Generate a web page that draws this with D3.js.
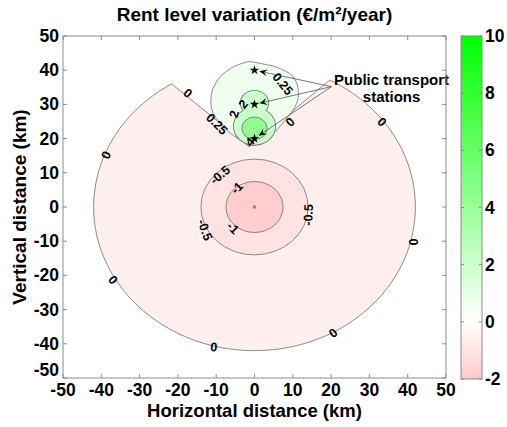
<!DOCTYPE html>
<html><head><meta charset="utf-8">
<script src="https://cdn.jsdelivr.net/npm/d3@7"></script>
<style>
body{margin:0;background:#fff;}
text{font-family:"Liberation Sans",Arial,sans-serif;font-weight:bold;fill:#000;}
</style></head>
<body><svg id="c" width="507" height="427"></svg>
<script>
// ---------- data (km / €/m²/year) ----------
const xTicks = [-50,-40,-30,-20,-10,0,10,20,30,40,50];
const yTicks = [-50,-40,-30,-20,-10,0,10,20,30,40,50];
const cbTicks = [-2,0,2,4,6,8,10];
const stations = [[0,40],[0,30],[0,20]];
const diskRadius = 42;                       // outer 0 contour (data domain)
const notch = [[19.5,36.8],[-1.4,17.6],[-22.1,36.8]];
const negLevels = [-0.5,-1];
const negRadii = [14,7.45];
const blob025 = [[-1.6,42.5],[1.4,42.0],[5.5,41.0],[9.5,38.8],[11.2,35.7],[11.4,31.8],[10.1,28.4],[5.8,22.5],[2.3,19.1],[-0.7,18.0],[-3.8,19.6],[-7.3,22.5],[-10.6,26.9],[-11.4,30.3],[-11.0,34.2],[-9.0,38.1],[-5.5,41.0]];
const level2Circles = [[0,30.4,3.6],[0,23.6,5.4]];
const level4Circle = [0,23.0,3.3];
const contourLabels = [
 ["0",-17.4,33.3,39],["0.25",-9.8,24.3,45],["0.25",7.4,36.0,50],["0",9.3,24.9,-45],
 ["2",-3.0,30.1,-50],["2",-5.4,27.2,-75],["4",-1.2,19.0,-45],
 ["0",-38.8,15.2,-65],["0",33.3,24.9,45],["0",41.6,-10.2,90],["0",-36.9,-21.3,50],
 ["0",20.5,-36.8,-40],["0",-10.6,-40.9,5],
 ["-0.5",-9.0,9.4,-40],["-1",-4.6,5.6,-45],["-0.5",14.0,-2.3,-88],["-0.5",-12.9,-6.7,70],["-1",-5.6,-6.1,45]
];
const annotText = ["Public transport","stations"];
const annotStart = [20.1,35.2];
const annotTextPos = [35.8,35.7];

// ---------- layout ----------
const svg = d3.select("#c");
const x = d3.scaleLinear([-50,50],[63,446]);
const y = d3.scaleLinear([-50,50],[378,36]);
const cy = d3.scaleLinear([-2,10],[379,36]);
const kx = x(1)-x(0), ky = y(0)-y(1);
function cmap(v){
  if(v<0) return d3.interpolateRgb("#ffffff","rgb(255,200,200)")(Math.min(1,-v/2));
  return d3.interpolateRgb("#ffffff","rgb(0,255,0)")(Math.min(1,v/10));
}
const lineCol = "#6e6e6e";

// outer disk with notch
const a1 = Math.atan2(notch[0][1],notch[0][0]);
const a2 = Math.atan2(notch[2][1],notch[2][0]) - 2*Math.PI;
const disk = [];
for(let a=a1;a>=a2;a-=Math.PI/90) disk.push([diskRadius*Math.cos(a),diskRadius*Math.sin(a)]);
disk.push([diskRadius*Math.cos(a2),diskRadius*Math.sin(a2)]);
disk.push(notch[1]);
const lineGen = d3.line().x(d=>x(d[0])).y(d=>y(d[1]));
svg.append("path").attr("d",lineGen(disk)+"Z").attr("fill","rgb(255,239,239)").attr("stroke",lineCol).attr("stroke-width",0.8);

// negative circles
const negFill = ["rgb(255,226,226)","rgb(255,205,205)"];
negLevels.forEach((lv,i)=>{
  svg.append("ellipse").attr("cx",x(0)).attr("cy",y(0)).attr("rx",negRadii[i]*kx).attr("ry",negRadii[i]*ky)
   .attr("fill",negFill[i]).attr("stroke",lineCol).attr("stroke-width",0.8);
});
svg.append("circle").attr("cx",x(0)).attr("cy",y(0)).attr("r",1.8).attr("fill","#888");

// 0.25 blob
svg.append("path").attr("d",d3.line().x(d=>x(d[0])).y(d=>y(d[1])).curve(d3.curveCardinalClosed.tension(0.3))(blob025))
  .attr("fill","rgb(240,255,240)").attr("stroke",lineCol).attr("stroke-width",0.8);
// level 2 union
level2Circles.forEach(c=>svg.append("ellipse").attr("cx",x(c[0])).attr("cy",y(c[1])).attr("rx",c[2]*kx).attr("ry",c[2]*ky)
  .attr("fill","none").attr("stroke",lineCol).attr("stroke-width",1.6));
level2Circles.forEach(c=>svg.append("ellipse").attr("cx",x(c[0])).attr("cy",y(c[1])).attr("rx",c[2]*kx).attr("ry",c[2]*ky)
  .attr("fill","rgb(204,255,204)"));
svg.append("ellipse").attr("cx",x(level4Circle[0])).attr("cy",y(level4Circle[1])).attr("rx",level4Circle[2]*kx).attr("ry",level4Circle[2]*ky)
  .attr("fill","rgb(145,250,145)").attr("stroke",lineCol).attr("stroke-width",0.8);

// contour labels
contourLabels.forEach(l=>{
  svg.append("text").attr("transform",`translate(${x(l[1])},${y(l[2])}) rotate(${l[3]})`)
   .attr("text-anchor","middle").attr("dy","0.35em").attr("font-size",12.5).text(l[0]);
});

// stations
svg.selectAll(".st").data(stations).join("path")
  .attr("transform",d=>`translate(${x(d[0])},${y(d[1])})`)
  .attr("d",d3.symbol(d3.symbolStar,28)).attr("fill","#000");

// annotation arrows
const sx = x(annotStart[0]), sy = y(annotStart[1]);
stations.forEach(s=>{
  const px=x(s[0]), py=y(s[1]);
  const dx=sx-px, dy=sy-py, L=Math.hypot(dx,dy), ux=dx/L, uy=dy/L;
  const tx=px+ux*5, ty=py+uy*5;
  svg.append("line").attr("x1",sx).attr("y1",sy).attr("x2",tx+ux*5).attr("y2",ty+uy*5).attr("stroke","#555").attr("stroke-width",0.8);
  const hl=8, hw=3.5, nx=-uy, ny=ux;
  const p=[[tx,ty],[tx+ux*hl+nx*hw,ty+uy*hl+ny*hw],[tx+ux*hl*0.6,ty+uy*hl*0.6],[tx+ux*hl-nx*hw,ty+uy*hl-ny*hw]];
  svg.append("path").attr("d","M"+p.map(q=>q.join(",")).join("L")+"Z").attr("fill","#000");
});
svg.append("text").attr("x",x(annotTextPos[0])).attr("y",y(annotTextPos[1])).attr("text-anchor","middle").attr("font-size",15).text(annotText[0]);
svg.append("text").attr("x",x(annotTextPos[0])).attr("y",y(annotTextPos[1])+17.5).attr("text-anchor","middle").attr("font-size",15).text(annotText[1]);

// axes box
const axCol = "#8c8c8c";
svg.append("rect").attr("x",x(-50)).attr("y",y(50)).attr("width",x(50)-x(-50)).attr("height",y(-50)-y(50))
  .attr("fill","none").attr("stroke",axCol).attr("stroke-width",1);
xTicks.forEach(t=>{
  svg.append("line").attr("x1",x(t)).attr("x2",x(t)).attr("y1",y(-50)).attr("y2",y(-50)-4).attr("stroke",axCol);
  svg.append("line").attr("x1",x(t)).attr("x2",x(t)).attr("y1",y(50)).attr("y2",y(50)+4).attr("stroke",axCol);
  svg.append("text").attr("x",x(t)).attr("y",396).attr("text-anchor","middle").attr("font-size",17.5).text(t);
});
yTicks.forEach((t,i)=>{
  svg.append("line").attr("x1",x(-50)).attr("x2",x(-50)+4).attr("y1",y(t)).attr("y2",y(t)).attr("stroke",axCol);
  svg.append("line").attr("x1",x(50)).attr("x2",x(50)-4).attr("y1",y(t)).attr("y2",y(t)).attr("stroke",axCol);
  svg.append("text").attr("x",59).attr("y",i===0 ? y(t)-2.5 : y(t)+6).attr("text-anchor","end").attr("font-size",17.5).text(t);
});
svg.append("text").attr("x",(x(-50)+x(50))/2).attr("y",417).attr("text-anchor","middle").attr("font-size",18.5).text("Horizontal distance (km)");
svg.append("text").attr("transform",`translate(26,${(y(-50)+y(50))/2}) rotate(-90)`).attr("text-anchor","middle").attr("font-size",19).text("Vertical distance (km)");
svg.append("text").attr("x",(x(-50)+x(50))/2).attr("y",21).attr("text-anchor","middle").attr("font-size",19).text("Rent level variation (€/m²/year)");

// colorbar
const grad = svg.append("defs").append("linearGradient").attr("id","cb").attr("x1",0).attr("y1",1).attr("x2",0).attr("y2",0);
d3.range(-2,10.01,0.25).forEach(v=>grad.append("stop").attr("offset",(v+2)/12).attr("stop-color",cmap(v)));
svg.append("rect").attr("x",461).attr("y",cy(10)).attr("width",21).attr("height",cy(-2)-cy(10)).attr("fill","url(#cb)").attr("stroke",axCol);
cbTicks.forEach(t=>{
  svg.append("line").attr("x1",461).attr("x2",464).attr("y1",cy(t)).attr("y2",cy(t)).attr("stroke",axCol);
  svg.append("line").attr("x1",482).attr("x2",479).attr("y1",cy(t)).attr("y2",cy(t)).attr("stroke",axCol);
  svg.append("text").attr("x",485).attr("y",cy(t)).attr("dy","0.35em").attr("font-size",17.5).text(t);
});
</script></body></html>
